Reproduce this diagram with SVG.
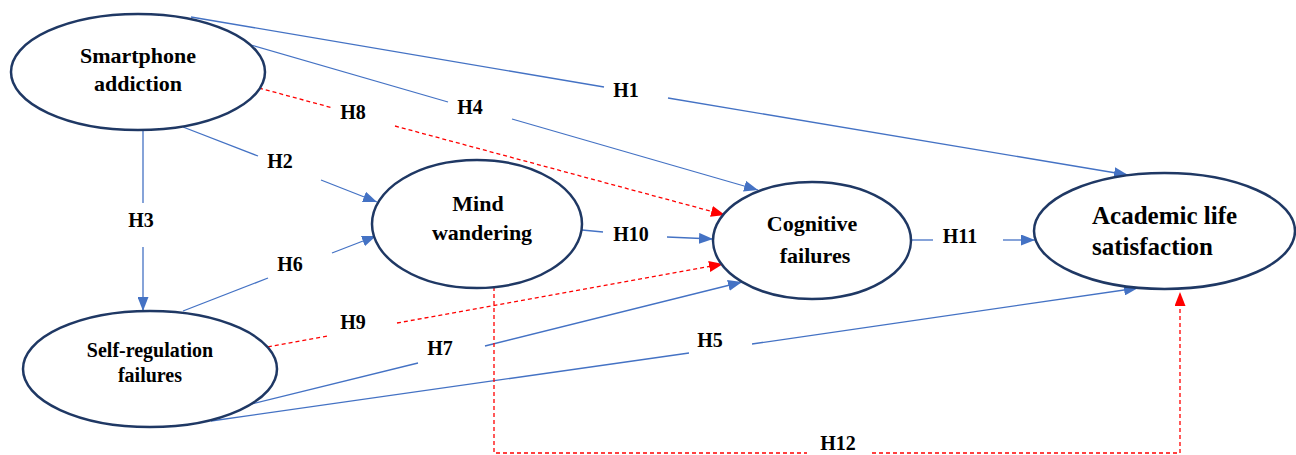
<svg xmlns="http://www.w3.org/2000/svg" width="1296" height="455" viewBox="0 0 1296 455">
<style>
.node{fill:#fff;stroke:#1f3864;stroke-width:2.5}
.nt{font-family:"Liberation Serif",serif;font-weight:bold;fill:#000}
.lbl{font-family:"Liberation Serif",serif;font-weight:bold;font-size:20px;fill:#000;text-anchor:middle}
.b{stroke:#4472c4;stroke-width:1.3;fill:none}
.r{stroke:#ff0000;stroke-width:1.3;fill:none;stroke-dasharray:4 3}
</style>
<defs>
<marker id="ab" markerUnits="userSpaceOnUse" markerWidth="15" markerHeight="11" refX="14" refY="5.5" orient="auto"><path d="M0,0 L14,5.5 L0,11 z" fill="#4472c4"/></marker>
<marker id="ar" markerUnits="userSpaceOnUse" markerWidth="15" markerHeight="11" refX="14" refY="5.5" orient="auto"><path d="M0,0 L14,5.5 L0,11 z" fill="#ff0000"/></marker>
</defs>
<rect width="1296" height="455" fill="#fff"/>
<g id="connectors">
<line class="b" x1="191" y1="17" x2="604" y2="87"/><line class="b" x1="668" y1="98" x2="1128" y2="175" marker-end="url(#ab)"/>
<line class="b" x1="251" y1="45" x2="448" y2="102"/><line class="b" x1="512" y1="119" x2="758" y2="190" marker-end="url(#ab)"/>
<line class="r" x1="259" y1="88" x2="333" y2="108"/><line class="r" x1="395" y1="126" x2="725" y2="215" marker-end="url(#ar)"/>
<line class="b" x1="183" y1="127" x2="258" y2="156"/><line class="b" x1="321" y1="180" x2="377" y2="202" marker-end="url(#ab)"/>
<line class="b" x1="143" y1="130" x2="143" y2="203"/><line class="b" x1="143" y1="247" x2="143" y2="311" marker-end="url(#ab)"/>
<line class="b" x1="183" y1="311" x2="268" y2="278"/><line class="b" x1="332" y1="253" x2="376" y2="236" marker-end="url(#ab)"/>
<line class="b" x1="582" y1="230" x2="603" y2="232"/><line class="b" x1="667" y1="237" x2="713" y2="239" marker-end="url(#ab)"/>
<line class="b" x1="911" y1="240" x2="933" y2="240"/><line class="b" x1="1003" y1="240" x2="1035" y2="240" marker-end="url(#ab)"/>
<line class="r" x1="261" y1="348" x2="328" y2="336"/><line class="r" x1="397" y1="323" x2="723" y2="264" marker-end="url(#ar)"/>
<line class="b" x1="243" y1="406" x2="418" y2="363"/><line class="b" x1="485" y1="346" x2="742" y2="282" marker-end="url(#ab)"/>
<line class="b" x1="211" y1="421" x2="689" y2="353"/><line class="b" x1="752" y1="344" x2="1138" y2="288" marker-end="url(#ab)"/>
<polyline class="r" points="494,287 494,453 807,453"/><polyline class="r" points="872,453 1180,453 1180,292" marker-end="url(#ar)"/>
</g>
<g id="labels">
<text class="lbl" x="626" y="97">H1</text>
<text class="lbl" x="470" y="114">H4</text>
<text class="lbl" x="353" y="119">H8</text>
<text class="lbl" x="280" y="168">H2</text>
<text class="lbl" x="141" y="227">H3</text>
<text class="lbl" x="290" y="271">H6</text>
<text class="lbl" x="631" y="241">H10</text>
<text class="lbl" x="960" y="243">H11</text>
<text class="lbl" x="353" y="329">H9</text>
<text class="lbl" x="440" y="355">H7</text>
<text class="lbl" x="710" y="347">H5</text>
<text class="lbl" x="838" y="450">H12</text>
</g>
<g id="smartphone-addiction">
<ellipse class="node" cx="138" cy="72" rx="127" ry="58"/>
<text class="nt" font-size="22" text-anchor="middle" x="138" y="63">Smartphone</text>
<text class="nt" font-size="22" text-anchor="middle" x="138" y="91">addiction</text>
</g>
<g id="mind-wandering">
<ellipse class="node" cx="477" cy="224" rx="105" ry="64"/>
<text class="nt" font-size="22" text-anchor="middle" x="478" y="211">Mind</text>
<text class="nt" font-size="22" text-anchor="middle" x="482" y="240">wandering</text>
</g>
<g id="cognitive-failures">
<ellipse class="node" cx="812" cy="240.5" rx="99" ry="58.5"/>
<text class="nt" font-size="22" text-anchor="middle" x="812" y="231">Cognitive</text>
<text class="nt" font-size="22" text-anchor="middle" x="815" y="263">failures</text>
</g>
<g id="academic-life-satisfaction">
<ellipse class="node" cx="1164.5" cy="231" rx="130.5" ry="58"/>
<text class="nt" font-size="25" x="1092" y="224">Academic life</text>
<text class="nt" font-size="25" x="1092" y="255">satisfaction</text>
</g>
<g id="self-regulation-failures">
<ellipse class="node" cx="150" cy="369" rx="127" ry="58"/>
<text class="nt" font-size="20" text-anchor="middle" x="150" y="357">Self-regulation</text>
<text class="nt" font-size="20" text-anchor="middle" x="150" y="382">failures</text>
</g>
</svg>
